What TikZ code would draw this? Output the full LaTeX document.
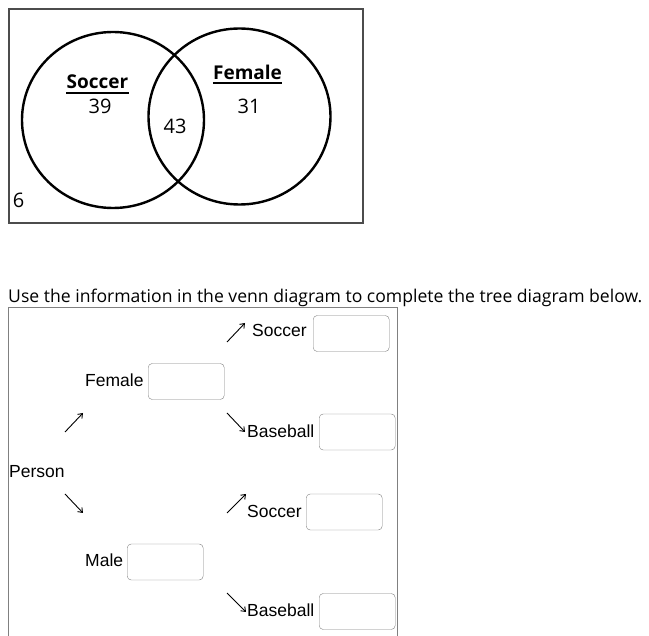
\documentclass[tikz,border=0pt]{standalone}
\usepackage{fontspec}
\setmainfont{Liberation Sans}
\newfontfamily\vennfont{Open Sans}
\definecolor{boxgray}{rgb}{0.5,0.5,0.5}
\definecolor{framegray}{rgb}{0.3,0.3,0.3}
\usepackage{tikz}
\usetikzlibrary{positioning}
\usetikzlibrary{arrows.meta}

\tikzset{
  ansbox/.style={draw=boxgray, rounded corners=4pt, minimum width=76pt, minimum height=36pt, inner sep=0pt, anchor=west},
  lbl/.style={inner sep=0pt, anchor=base west, font=\fontsize{17.5}{20}\selectfont},
  branch/.style={-{Straight Barb[length=4pt, width=6pt]}, line width=0.9pt},
  setcirc/.style={draw, line width=2.4pt},
  vlbl/.style={inner sep=0pt, anchor=base, font=\vennfont\bfseries\fontsize{19}{22}\selectfont},
  vnum/.style={inner sep=0pt, anchor=base, font=\vennfont\fontsize{20}{24}\selectfont}
}

\begin{document}
\begin{tikzpicture}[x=1pt, y=-1pt]
  \useasboundingbox (0,0) rectangle (649,636);

  % venn diagram
  \draw[framegray, line width=1.5pt] (9,9) rectangle (363,223);
  \draw[setcirc] (113,120) ellipse [x radius=91, y radius=88];
  \draw[setcirc] (239.5,116.5) ellipse [x radius=91, y radius=88];
  \node[vlbl] (soccerset) at (97.5,89) {Soccer};
  \node[vlbl] (femaleset) at (247.5,80) {Female};
  \draw[line width=1.5pt] ([yshift=-4pt]soccerset.base west) -- ([yshift=-4pt]soccerset.base east);
  \draw[line width=1.5pt] ([yshift=-3pt]femaleset.base west) -- ([yshift=-3pt]femaleset.base east);
  \node[vnum] (onlysoccer) at (100,114) {39};
  \node[vnum] (onlyfemale) at (249,114) {31};
  \node[vnum] (both) at (175,134) {43};
  \node[vnum] (neither) at (18.5,208) {6};

  % question
  \node[inner sep=0pt, anchor=base west, font=\vennfont\fontsize{17.6}{20}\selectfont] (question) at (8,303)
    {Use the information in the venn diagram to complete the tree diagram below.};

  % tree diagram
  \draw[boxgray, line width=1pt] (8,640) -- (8,308) -- (397,308) -- (397,640);

  \node[lbl] (person) at (9,478) {Person};

  \node[lbl] (female) at (85,387) {Female};
  \node[ansbox] (femalebox) at (148,381.5) {};
  \node[lbl] (male) at (85,567) {Male};
  \node[ansbox] (malebox) at (127,562) {};

  \node[lbl] (fsoccer) at (252,337) {Soccer};
  \node[ansbox] (fsoccerbox) at (313,333.5) {};
  \node[lbl] (fbaseball) at (247,438) {Baseball};
  \node[ansbox] (fbaseballbox) at (319,432) {};
  \node[lbl] (msoccer) at (247,518) {Soccer};
  \node[ansbox] (msoccerbox) at (306,512) {};
  \node[lbl] (mbaseball) at (247,617) {Baseball};
  \node[ansbox] (mbaseballbox) at (319,611.5) {};

  % branch arrows
  \coordinate (tofemaleS) at (65,432);   \coordinate (tofemaleE) at (83,413);
  \coordinate (tomaleS) at (65,494);     \coordinate (tomaleE) at (83,513);
  \coordinate (tofsoccerS) at (227,342); \coordinate (tofsoccerE) at (245,323);
  \coordinate (tofbaseS) at (227,413);   \coordinate (tofbaseE) at (245,432);
  \coordinate (tomsoccerS) at (227,513); \coordinate (tomsoccerE) at (246,494);
  \coordinate (tombaseS) at (227,593);   \coordinate (tombaseE) at (246,612);
  \foreach \b in {tofemale, tomale, tofsoccer, tofbase, tomsoccer, tombase}
    \draw[branch] (\b S) -- (\b E);
\end{tikzpicture}
\end{document}
